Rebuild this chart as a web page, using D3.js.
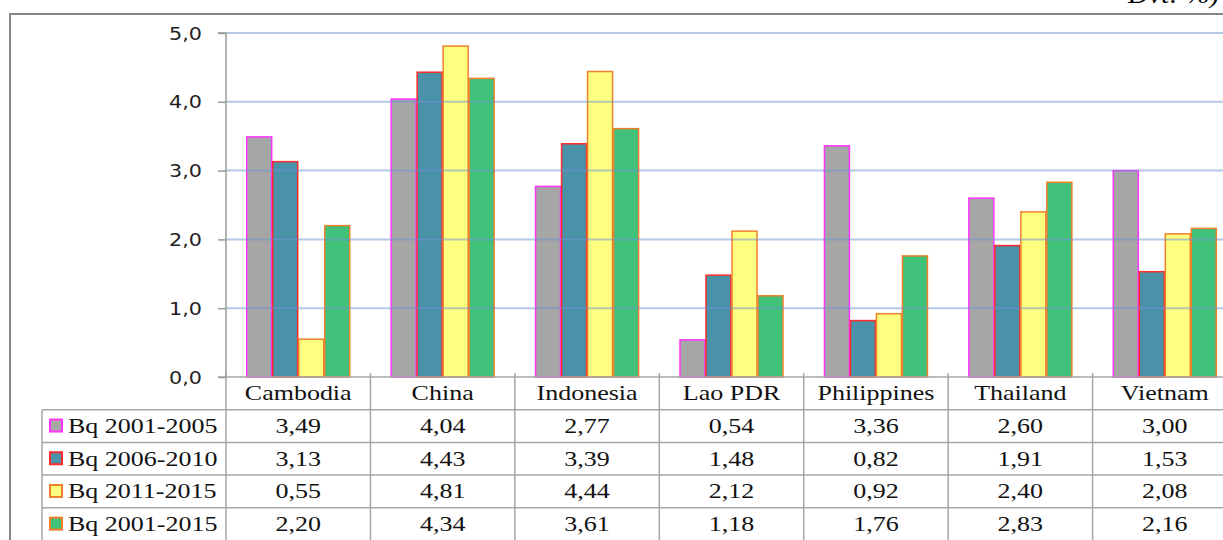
<!DOCTYPE html>
<html>
<head>
<meta charset="utf-8">
<script src="https://cdn.jsdelivr.net/npm/d3@7"></script>
<style>
html,body{margin:0;padding:0;background:#fff;}
svg{display:block;}
</style>
</head>
<body>
<svg id="chart" width="1223" height="540"></svg>
<script>
const categories = ["Cambodia","China","Indonesia","Lao PDR","Philippines","Thailand","Vietnam"];
const seriesNames = ["Bq 2001-2005","Bq 2006-2010","Bq 2011-2015","Bq 2001-2015"];
const bq2001_2005 = [3.49,4.04,2.77,0.54,3.36,2.60,3.00];
const bq2006_2010 = [3.13,4.43,3.39,1.48,0.82,1.91,1.53];
const bq2011_2015 = [0.55,4.81,4.44,2.12,0.92,2.40,2.08];
const bq2001_2015 = [2.20,4.34,3.61,1.18,1.76,2.83,2.16];
const yTicks = [0,1,2,3,4,5];
const unitLabel = "Đvt: %)";

const seriesValues = [bq2001_2005,bq2006_2010,bq2011_2015,bq2001_2015];
const fills = ["#a6a6a6","#4a92a8","#ffff80","#40c27a"];
const strokes = ["#ff33ff","#ff2a2a","#f0802a","#f0802a"];

const svg = d3.select("#chart");
const plotL = 226, plotR = 1237, plotT = 33, plotB = 377;
const rowH = 32.7;
const SX = 1.3;

function stretchedText(parent, x, y, str, opts){
  const g = parent.append("g").attr("transform",`translate(${x},${y}) scale(${opts.sx||SX},1)`);
  return g.append("text").attr("x",0).attr("y",0)
    .attr("text-anchor",opts.anchor||"start")
    .attr("font-family",opts.family||"Liberation Serif")
    .attr("font-size",opts.size||20)
    .attr("font-style",opts.style||"normal")
    .attr("fill",opts.fill||"#111").text(str);
}

// outer frame
svg.append("rect").attr("x",10).attr("y",14).attr("width",1300).attr("height",600)
  .attr("fill","#fff").attr("stroke","#878787").attr("stroke-width",2);

// unit label (cut at top as in the source)
stretchedText(svg,1128,3,unitLabel,{size:26,style:"italic",fill:"#000",sx:1.1});

const x0 = d3.scaleBand().domain(categories).range([plotL,plotR]).paddingInner(0).paddingOuter(0);
const bw = x0.bandwidth();
const groupW = 104;
const x1 = d3.scaleBand().domain(d3.range(seriesNames.length)).range([(bw-groupW)/2,(bw+groupW)/2]);
const y = d3.scaleLinear().domain([0,5]).range([plotB,plotT]);
const fmt = v => d3.format(".1f")(v).replace(".",",");
const fmt2 = v => d3.format(".2f")(v).replace(".",",");

// bars
const groups = svg.append("g").selectAll("g").data(categories).join("g")
  .attr("transform",d=>`translate(${x0(d)},0)`);
groups.selectAll("rect").data((c,i)=>seriesValues.map((s,k)=>({k,v:s[i]}))).join("rect")
  .attr("x",d=>x1(d.k)+0.5).attr("width",x1.bandwidth()-1)
  .attr("y",d=>y(d.v)).attr("height",d=>y(0)-y(d.v))
  .attr("fill",d=>fills[d.k]).attr("stroke",d=>strokes[d.k]).attr("stroke-width",1.5);

// gridlines (on top, translucent)
svg.append("g").selectAll("line").data(yTicks.filter(t=>t>0)).join("line")
  .attr("x1",plotL).attr("x2",plotR).attr("y1",d=>y(d)).attr("y2",d=>y(d))
  .attr("stroke","rgba(110,145,210,0.5)").attr("stroke-width",2);

// table
const tbl = svg.append("g");
const lineC = "#a6a6a6";
const tableBottom = 560;
tbl.append("line").attr("x1",plotL-8).attr("x2",plotR).attr("y1",plotB).attr("y2",plotB).attr("stroke",lineC).attr("stroke-width",1.5);
for(let r=1;r<=4;r++){
  tbl.append("line").attr("x1",42).attr("x2",plotR).attr("y1",plotB+r*rowH).attr("y2",plotB+r*rowH)
    .attr("stroke",lineC).attr("stroke-width",1.5);
}
tbl.append("line").attr("x1",42).attr("x2",42).attr("y1",plotB+rowH).attr("y2",tableBottom).attr("stroke",lineC).attr("stroke-width",1.5);
categories.forEach(c=>{
  tbl.append("line").attr("x1",x0(c)).attr("x2",x0(c)).attr("y1",plotB-4).attr("y2",tableBottom)
    .attr("stroke",lineC).attr("stroke-width",1.5);
});
tbl.append("line").attr("x1",plotR).attr("x2",plotR).attr("y1",plotB-4).attr("y2",tableBottom).attr("stroke",lineC).attr("stroke-width",1.5);

// y axis
const yAxis = d3.axisLeft(y).tickValues(yTicks).tickFormat(fmt).tickSize(8);
const ga = svg.append("g").attr("transform",`translate(${plotL},0)`).call(yAxis);
ga.select(".domain").attr("stroke","#9a9a9a").attr("stroke-width",1.5).attr("d",`M-8,${plotT}H0V${plotB}`);
ga.selectAll(".tick line").attr("stroke","#9a9a9a").attr("stroke-width",1.5);
ga.selectAll(".tick text").remove();
yTicks.forEach(t=>{
  stretchedText(svg,202,y(t)+6.5,fmt(t),{family:"DejaVu Sans",size:18,anchor:"end",fill:"#222",sx:1.15});
});

// header
categories.forEach(c=>{
  stretchedText(tbl,x0(c)+bw/2,plotB+rowH/2+7,c,{anchor:"middle"});
});

// rows
seriesNames.forEach((name,k)=>{
  const cy = plotB+(k+1)*rowH+rowH/2;
  tbl.append("rect").attr("x",50).attr("y",cy-6.5).attr("width",12).attr("height",12)
    .attr("fill",fills[k]).attr("stroke",strokes[k]).attr("stroke-width",2);
  stretchedText(tbl,68,cy+7,name,{});
  seriesValues[k].forEach((v,i)=>{
    stretchedText(tbl,x0(categories[i])+bw/2,cy+7,fmt2(v),{anchor:"middle"});
  });
});
</script>
</body>
</html>
